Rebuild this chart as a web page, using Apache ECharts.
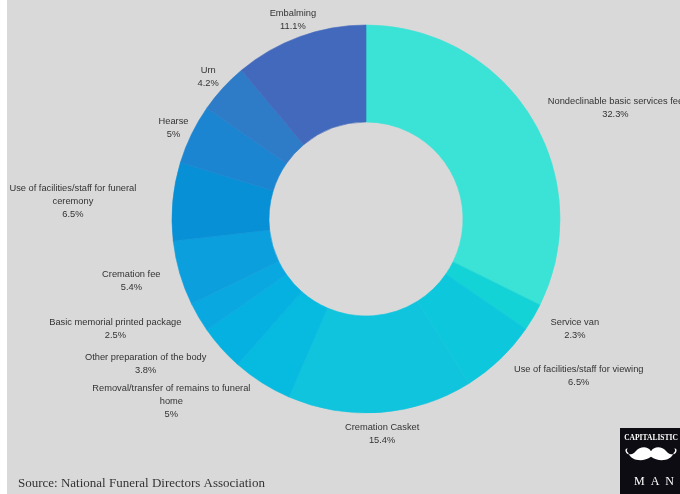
<!DOCTYPE html>
<html>
<head>
<meta charset="utf-8">
<script src="https://cdn.jsdelivr.net/npm/echarts@6/dist/echarts.min.js"></script>
<style>
  html, body { margin: 0; padding: 0; background: #fff; }
  #main { width: 680px; height: 494px; }
</style>
</head>
<body>
<div id="main"></div>
<script>
(function (echarts) {

  'use strict';

  // funeral cost breakdown, clockwise from 12 o'clock
  var categories = [
    'Nondeclinable basic services fee',
    'Service van',
    'Use of facilities/staff for viewing',
    'Cremation Casket',
    'Removal/transfer of remains to funeral\nhome',
    'Other preparation of the body',
    'Basic memorial printed package',
    'Cremation fee',
    'Use of facilities/staff for funeral\nceremony',
    'Hearse',
    'Urn',
    'Embalming'
  ];
  var shares = [32.3, 2.3, 6.5, 15.4, 5, 3.8, 2.5, 5.4, 6.5, 5, 4.2, 11.1];

  var palette = [
    '#3ae3d6', '#14d3d7', '#0dc8dc', '#10c4dd', '#07bae0', '#05b1e0',
    '#0aa8e0', '#0b9fde', '#0890d6', '#1b85d1', '#2e7bc8', '#4369bc'
  ];

  var cx = 366, cy = 219, outerR = 194, innerR = 97, labelR = 214;

  var total = shares.reduce(function (a, b) { return a + b; }, 0);
  var mids = [];
  var acc = 0;
  shares.forEach(function (v) {
    mids.push((acc + v / 2) / total * Math.PI * 2);
    acc += v;
  });

  function clamp(v, lo, hi) { return Math.max(lo, Math.min(hi, v)); }

  // little white moustache for the logo
  var moustache = 'data:image/svg+xml;utf8,' + encodeURIComponent(
    '<svg xmlns="http://www.w3.org/2000/svg" viewBox="0 0 44 14">' +
    '<path fill="#fff" d="M22,5 C19,1 13,2 10,5 C7,8 3,8 2,5 C1.5,3.5 3,2.5 4,3.5 C3,3 2.5,5 4,6 C6,12 16,13 22,9 Z ' +
    'M22,5 C25,1 31,2 34,5 C37,8 41,8 42,5 C42.5,3.5 41,2.5 40,3.5 C41,3 41.5,5 40,6 C38,12 28,13 22,9 Z"/></svg>'
  );

  var chart = echarts.init(document.getElementById('main'));
  chart.setOption({
    backgroundColor: '#d9d9d9',
    animation: false,
    color: palette,
    graphic: [
      {type: 'rect', x: 0, y: 0, shape: {width: 7, height: 494}, style: {fill: '#ffffff'}},
      {
        type: 'text', x: 18, y: 484,
        style: {text: 'Source: National Funeral Directors Association', fill: '#333', font: '13px "Liberation Serif", serif', verticalAlign: 'middle'}
      },
      {type: 'rect', x: 620, y: 428, shape: {width: 60, height: 66}, style: {fill: '#0c0c12'}},
      {
        type: 'text', x: 651, y: 438,
        style: {text: 'CAPITALISTIC', fill: '#fff', font: 'bold 7.5px "Liberation Serif", serif', align: 'center', verticalAlign: 'middle'}
      },
      {type: 'image', x: 623, y: 444, style: {image: moustache, width: 56, height: 20}},
      {
        type: 'text', x: 654, y: 482,
        style: {text: 'M  A  N', fill: '#fff', font: '12px "Liberation Serif", serif', align: 'center', verticalAlign: 'middle'}
      }
    ],
    series: [{
      type: 'pie',
      center: [cx, cy],
      radius: [innerR, outerR],
      startAngle: 90,
      clockwise: true,
      avoidLabelOverlap: false,
      itemStyle: {borderWidth: 0},
      label: {
        show: true,
        position: 'outside',
        color: '#333',
        fontSize: 9.3,
        fontFamily: '"Liberation Sans", Arial, sans-serif',
        lineHeight: 13,
        overflow: 'none',
        formatter: function (p) { return p.name + '\n' + p.value + '%'; }
      },
      labelLine: {show: false, length: 10, length2: 0},
      labelLayout: function (p) {
        var i = p.dataIndex;
        var ux = Math.sin(mids[i]), uy = -Math.cos(mids[i]);
        var ax = cx + ux * labelR, ay = cy + uy * labelR;
        var w = categories[i].indexOf('\n') >= 0 ? 160 : p.labelRect.width;
        var h = p.labelRect.height;
        // keep centred on the anchor if that clears the ring, else push to the side
        var nx = clamp(cx, ax - w / 2, ax + w / 2);
        var ny = clamp(cy, ay - h / 2, ay + h / 2);
        var x = ax;
        if (Math.sqrt((nx - cx) * (nx - cx) + (ny - cy) * (ny - cy)) < outerR) {
          x = ux < 0 ? ax - w / 2 : ax + w / 2;
        }
        return {x: x, y: ay + 2, align: 'center', verticalAlign: 'middle'};
      },
      emphasis: {disabled: true},
      data: categories.map(function (name, i) {
        return {name: name, value: shares[i], itemStyle: {borderWidth: 0.6, borderColor: palette[i]}};
      })
    }]
  });
})(window.echarts);
</script>
</body>
</html>
